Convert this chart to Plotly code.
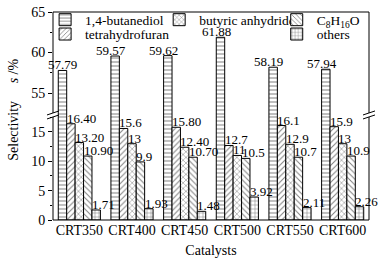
import numpy as np
import plotly.graph_objects as go

categories = ["CRT350", "CRT400", "CRT450", "CRT500", "CRT550", "CRT600"]
series_names = ["1,4-butanediol", "tetrahydrofuran", "butyric anhydride",
                "C<sub>8</sub>H<sub>16</sub>O", "others"]
butanediol = [57.79, 59.57, 59.62, 61.88, 58.19, 57.94]
thf = [16.40, 15.6, 15.80, 12.7, 16.1, 15.9]
butyric = [13.20, 13, 12.40, 11, 12.9, 13]
c8h16o = [10.90, 9.9, 10.70, 10.5, 10.7, 10.9]
others = [1.71, 1.93, 1.48, 3.92, 2.11, 2.26]
label_butanediol = ["57.79", "59.57", "59.62", "61.88", "58.19", "57.94"]
label_thf = ["16.40", "15.6", "15.80", "12.7", "16.1", "15.9"]
label_butyric = ["13.20", "13", "12.40", "11", "12.9", "13"]
label_c8 = ["10.90", "9.9", "10.70", "10.5", "10.7", "10.9"]
label_others = ["1.71", "1.93", "1.48", "3.92", "2.11", "2.26"]

values = [butanediol, thf, butyric, c8h16o, others]
labels = [label_butanediol, label_thf, label_butyric, label_c8, label_others]
patterns = ["-", "/", "x", "\\", "+"]
legend_ids = ["legend", "legend2", "legend3", "legend4", "legend5"]
# legend placement (paper coords): column x, row y
legend_pos = [(-0.025, 0.962), (-0.025, 0.893), (0.336, 0.962), (0.708, 0.962), (0.708, 0.893)]

FONT = "Liberation Serif"
idx = np.arange(len(categories))
w = 0.16
fig = go.Figure()
label_font = dict(family=FONT, size=13, color="black")

for k, (name, vals, labs, pat, lg) in enumerate(zip(series_names, values, labels, patterns, legend_ids)):
    off = (k - 2.5) * w
    marker = dict(color="white", line=dict(color="black", width=1),
                  pattern=dict(shape=pat, fgcolor="black", bgcolor="white", size=4, solidity=0.25))
    fig.add_trace(go.Bar(x=idx, y=vals, width=w, offset=off, name=name, marker=marker,
                         xaxis="x", yaxis="y", legend=lg, showlegend=True, hoverinfo="skip"))
    if k == 0:
        fig.add_trace(go.Bar(x=idx, y=vals, width=w, offset=off, name=name, marker=marker,
                             xaxis="x", yaxis="y2", showlegend=False, hoverinfo="skip"))
        for i, (v, t) in enumerate(zip(vals, labs)):
            xpos = idx[i] + off + (w / 2 if i == 0 else 0)
            fig.add_annotation(x=xpos, y=v, xref="x", yref="y2", text=t, showarrow=False,
                               xanchor="center", yanchor="bottom", yshift=-4, font=label_font)
    else:
        for i, (v, t) in enumerate(zip(vals, labs)):
            fig.add_annotation(x=idx[i] + off, y=v, xref="x", yref="y", text=t, showarrow=False,
                               xanchor="left", yanchor="bottom", xshift=-2, yshift=-4,
                               font=label_font)

split = 0.505
layout = dict(
    width=379, height=263,
    margin=dict(l=53, r=10, t=12, b=43, autoexpand=False),
    paper_bgcolor="white", plot_bgcolor="white",
    font=dict(family=FONT, size=14, color="black"),
    barmode="overlay",
    showlegend=True,
    xaxis=dict(range=[-0.5, 5.5], tickvals=idx, ticktext=categories, showgrid=False,
               zeroline=False, showline=False, ticks="",
               title=dict(text="Catalysts", standoff=8, font=dict(size=14)),
               anchor="y"),
    yaxis=dict(domain=[0, split], range=[0, 17.9], tickvals=[0, 5, 10, 15],
               showgrid=False, zeroline=False, showline=False, ticks="outside",
               ticklen=4, tickcolor="black",
               minor=dict(dtick=2.5, tick0=0, ticks="outside", ticklen=2, tickcolor="black"),
               anchor="x"),
    yaxis2=dict(domain=[split, 1], range=[52.3, 65], tickvals=[55, 60, 65],
                showgrid=False, zeroline=False, showline=False, ticks="outside",
                ticklen=4, tickcolor="black",
                minor=dict(dtick=2.5, tick0=0, ticks="outside", ticklen=2, tickcolor="black"),
                anchor="x"),
)
for lg, (lx, ly) in zip(legend_ids, legend_pos):
    layout[lg] = dict(x=lx, y=ly, xanchor="left", yanchor="middle", bgcolor="rgba(0,0,0,0)",
                      font=dict(size=13.5), itemwidth=30, borderwidth=0)
fig.update_layout(**layout)

# frame
fig.add_shape(type="rect", xref="paper", yref="paper", x0=0, x1=1, y0=0, y1=1,
              line=dict(color="black", width=1), fillcolor="rgba(0,0,0,0)", layer="above")
# break marks
for xa in [0, 1]:
    fig.add_shape(type="rect", xref="paper", yref="paper", xsizemode="pixel", ysizemode="pixel",
                  xanchor=xa, yanchor=split, x0=-3, x1=3, y0=-2, y1=2,
                  fillcolor="white", line=dict(width=0), layer="above")
    for dy in [-2, 2]:
        fig.add_shape(type="line", xref="paper", yref="paper", xsizemode="pixel", ysizemode="pixel",
                      xanchor=xa, yanchor=split, x0=-6, x1=6, y0=dy - 2, y1=dy + 2,
                      line=dict(color="black", width=1), layer="above")

fig.add_annotation(xref="paper", yref="paper", x=0, y=0.53, xshift=-39, xanchor="center",
                   yanchor="middle", textangle=-90,
                   text="Selectivity&nbsp;&nbsp;&nbsp;&nbsp;&nbsp;<i>s</i> /%", showarrow=False,
                   font=dict(family=FONT, size=14, color="black"))

fig.write_html("out.html", config={"displayModeBar": False},
               post_script="document.body.style.margin='0';document.body.style.overflow='hidden';")
